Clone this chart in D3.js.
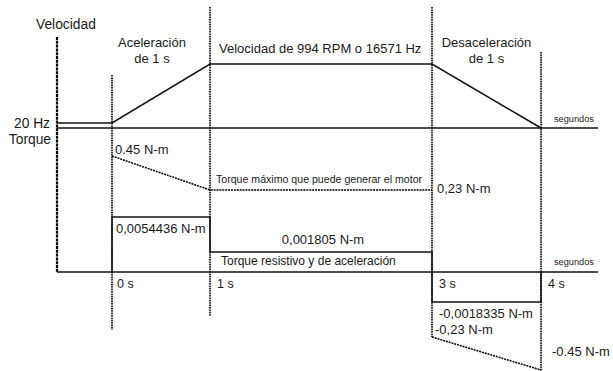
<!DOCTYPE html>
<html>
<head>
<meta charset="utf-8">
<script src="https://cdn.jsdelivr.net/npm/d3@7"></script>
<style>
  body { margin: 0; background: #fff; }
  text { font-family: "Liberation Sans", Arial, Helvetica, sans-serif; fill: #1a1a1a; }
</style>
</head>
<body>
<div id="chart"></div>
<script>
// time marks (seconds) and their labels
var timeTicks = [0, 1, 3, 4];
var timeLabels = ["0 s", "1 s", "3 s", "4 s"];

// velocity profile (Hz) at the time marks, plus the level before start
var velStart = 20;
var velTimes = [0, 1, 3, 4];
var velValues = [20, 16571, 16571, 0];

// torque needed on each segment (N-m)
var torqueSegments = [0.0054436, 0.001805, -0.0018335];

// max torque the motor can give (N-m)
var maxTorqueTimes = [0, 1, 3];
var maxTorqueValues = [0.45, 0.23, 0.23];
var minTorqueTimes = [3, 4];
var minTorqueValues = [-0.23, -0.45];

var width = 613, height = 371;

var svg = d3.select("#chart").append("svg")
    .attr("width", width)
    .attr("height", height);

// schematic (piecewise) scales, like the original sketch
var x = d3.scaleLinear()
    .domain([-0.56, 0, 1, 3, 4, 4.52])
    .range([57, 112, 210, 432, 541, 598]);

var yVel = d3.scaleLinear()
    .domain([0, 20, 16571])
    .range([128, 123, 64]);

var yTq = d3.scaleLinear()
    .domain([-0.45, -0.23, -0.0018335, 0, 0.001805, 0.0054436, 0.23, 0.45])
    .range([370, 337, 302, 272, 252, 217, 190, 156]);

// vertical dotted guides
var guideExtent = {0: [75, 330], 1: [7, 316], 3: [7, 337], 4: [52, 371]};
svg.append("g").selectAll("line")
    .data(timeTicks)
    .enter().append("line")
    .attr("x1", function(d) { return x(d); })
    .attr("x2", function(d) { return x(d); })
    .attr("y1", function(d) { return guideExtent[d][0]; })
    .attr("y2", function(d) { return guideExtent[d][1]; })
    .attr("stroke", "#000")
    .attr("stroke-width", 1.6)
    .attr("stroke-dasharray", "1.6,0.8");

// left axis
svg.append("line")
    .attr("x1", x(-0.56)).attr("x2", x(-0.56))
    .attr("y1", 37).attr("y2", yTq(0))
    .attr("stroke", "#000")
    .attr("stroke-width", 2.2)
    .attr("stroke-dasharray", "3,0.8");

// horizontal axes
[yVel(0), yTq(0)].forEach(function(yy) {
    svg.append("line")
        .attr("x1", x(-0.56)).attr("x2", x(4.52))
        .attr("y1", yy).attr("y2", yy)
        .attr("stroke", "#111")
        .attr("stroke-width", 1.5);
});

// velocity line
var velPts = [[-0.56, velStart]].concat(velTimes.map(function(t, i) { return [t, velValues[i]]; }));
svg.append("path")
    .datum(velPts)
    .attr("fill", "none")
    .attr("stroke", "#111")
    .attr("stroke-width", 1.5)
    .attr("d", d3.line().x(function(d) { return x(d[0]); }).y(function(d) { return yVel(d[1]); }));

// torque step
var stepPts = [[0, 0]];
torqueSegments.forEach(function(v, i) {
    var t0 = [0, 1, 3][i], t1 = [1, 3, 4][i];
    stepPts.push([t0, v]);
    stepPts.push([t1, v]);
});
stepPts.push([4, 0]);
svg.append("path")
    .datum(stepPts)
    .attr("fill", "none")
    .attr("stroke", "#111")
    .attr("stroke-width", 1.5)
    .attr("d", d3.line().x(function(d) { return x(d[0]); }).y(function(d) { return yTq(d[1]); }));

// max / min torque dotted lines
var dotLine = d3.line().x(function(d) { return x(d[0]); }).y(function(d) { return yTq(d[1]); });
[[maxTorqueTimes, maxTorqueValues], [minTorqueTimes, minTorqueValues]].forEach(function(s) {
    svg.append("path")
        .datum(s[0].map(function(t, i) { return [t, s[1][i]]; }))
        .attr("fill", "none")
        .attr("stroke", "#000")
        .attr("stroke-width", 1.5)
        .attr("stroke-dasharray", "2,0.9")
        .attr("d", dotLine);
});

// texts
function label(txt, px, py, size, anchor) {
    svg.append("text")
        .attr("x", px).attr("y", py)
        .attr("font-size", size + "px")
        .attr("text-anchor", anchor || "start")
        .text(txt);
}

label("Velocidad", 36, 29, 13.8);
label("20 Hz", 50, yVel(0), 13.8, "end");
label("Torque", 51, 144, 13.8, "end");

label("Aceleración", x(0) + 40, 47, 13, "middle");
label("de 1 s", x(0) + 40, 63, 13, "middle");
label("Velocidad de 994 RPM o 16571 Hz", x(1) + 9, 53, 13);
label("Desaceleración", (x(3) + x(4)) / 2, 47, 13, "middle");
label("de 1 s", (x(3) + x(4)) / 2, 63, 13, "middle");
label("segundos", 554, yVel(0) - 6, 9.2);
label("segundos", 554, yTq(0) - 7, 9.2);

label(maxTorqueValues[0] + " N-m", x(0) + 3, yTq(0.45) - 2, 13);
label("Torque máximo que puede generar el motor", x(1) + 6, 183, 10.6);
label(String(maxTorqueValues[2]).replace(".", ",") + " N-m", x(3) + 5, 193, 13);

label(String(torqueSegments[0]).replace(".", ",") + " N-m", x(0) + 4, 233, 13);
label(String(torqueSegments[1]).replace(".", ",") + " N-m", (x(1) + x(3)) / 2 + 2, 244, 13, "middle");
label("Torque resistivo y de aceleración", x(1) + 11, 265, 12);
label(String(torqueSegments[2]).replace(".", ",") + " N-m", x(3) + 7, 318, 13);
label(String(minTorqueValues[0]).replace(".", ",") + " N-m", x(3) + 3, 334, 13);
label(minTorqueValues[1] + " N-m", x(4) + 11, 356, 13);

timeTicks.forEach(function(t, i) {
    label(timeLabels[i], x(t) + (i === 0 ? 5 : 7), 288, 12.5);
});
</script>
</body>
</html>
